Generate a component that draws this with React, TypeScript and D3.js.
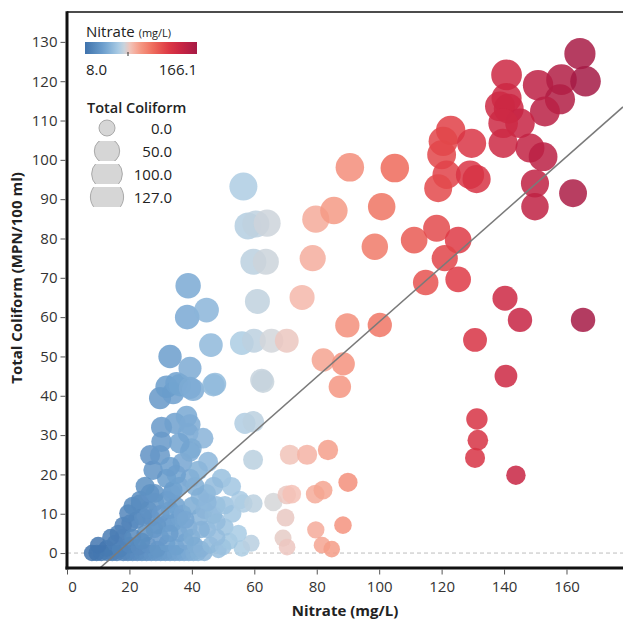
import React, { useEffect, useRef } from 'react';
import * as d3 from 'd3';

// nitrate (mg/L) and total coliform (MPN/100 ml), one entry per sample
const nitrate = [
  // low blue cluster, coliform ~0
  8.0, 9.5, 11, 13, 14.5, 16, 18, 19.5, 21, 22.5, 24, 25.5, 27, 28.5, 30, 31.5, 33, 34.5, 36, 37.5, 39, 40.5, 42, 44, 48.5, 56, 59,
  12.7, 15.4, 17, 20, 23, 26, 29, 32, 35, 38, 41, 43, 46, 50, 52,
  16.4, 20.2, 18, 22.3, 25, 28, 31.9, 34, 36, 39, 42.6, 45, 50.6, 54.9, 48, 30,
  10, 14, 18, 21, 24, 27, 29, 33, 36, 40, 43, 48, 53,
  19.6, 23.4, 24.3, 26, 28.2, 30, 33, 35, 37, 40, 42.6, 44, 46.9, 47.9, 50.6, 55.4, 56.5, 59.7, 38, 32, 45, 21,
  23.4, 26.6, 28.2, 33.5, 34, 36, 39.4, 44.7, 49.5, 52.7, 31.9, 27.6, 41, 47, 25, 35, 37, 42,
  26.6, 29.8, 30.3, 30.3, 34.6, 38.8, 38.3, 39.4, 43.6, 39.9, 39.4, 45.2, 57, 59.7, 59.6, 36, 33,
  29.8, 34, 31.9, 35.1, 36.2, 39.4, 40.4, 46.9, 47.4, 39.4, 33, 46.1, 62.8,
  38.5, 44.7, 38.8,
  // light blue / grey column
  56.5, 58, 60.5, 64.1, 59.7, 63.7, 61, 56, 59.9, 65.5, 70.4, 62.3, 66.1, 70.4,
  // pink, low coliform
  71.4, 76.9, 83.6, 72, 79.5, 82, 90, 70, 79.7, 88.4, 69.2, 70.5, 81.7, 84.8,
  // salmon
  75.3, 78.7, 79.7, 85.5, 90.6, 89.8, 100.2, 82.1, 88.5, 87.4,
  // red
  105, 100.8, 98.6, 111.2, 118.4, 125.3, 121, 114.9, 125.3, 122.9, 120.5, 129.6, 120, 121.6, 118.9, 129.1, 131.2,
  130.7, 131.3, 131.6, 130.7, 140.6, 143.8, 140.3, 145.1, 165.3,
  // dark red, top
  140.8, 164.3, 150.9, 158.4, 166.1, 140.8, 138.7, 141.5, 157.9, 153.1, 145.1, 139.7, 139.7, 148.3, 152.5, 149.9, 149.9, 162.1,
];

const coliform = [
  0, 0, 0, 0, 0, 0, 0, 0, 0, 0, 0, 0, 0, 0, 0, 0, 0, 0, 0, 0, 0, 0, 0, 0, 0.8, 1.2, 2.5,
  1.2, 2.5, 1, 2, 1.5, 2, 1, 2.5, 1.5, 3, 2, 1, 2, 1.5, 3,
  5, 7.6, 4, 8.4, 5, 6, 7.6, 7.6, 5, 6.5, 9.2, 6, 6.6, 5, 4, 4,
  2, 4, 7, 4, 3, 9, 7, 5, 9, 4, 6, 8, 10,
  10.1, 12.6, 9.2, 11, 13, 10, 11, 12, 10, 12, 14.3, 11, 9.7, 12.2, 12.2, 13.5, 12.6, 12.6, 8.5, 13.5, 13, 12,
  13.5, 15.2, 15.2, 15.2, 16, 17, 19, 15.2, 19, 16.9, 19, 21.1, 17, 17, 17, 20, 23, 21,
  24.9, 24.9, 28.3, 32, 33, 30.5, 34.7, 32.6, 29.2, 26.6, 25.8, 23.2, 33, 33.4, 23.7, 28, 22,
  39.4, 40.7, 42.3, 43.2, 42.7, 42, 41.5, 42.7, 43, 47, 50, 52.9, 43.6,
  60, 61.8, 68,
  93.2, 83.2, 83.7, 83.9, 74.1, 74.1, 64, 53.4, 54, 54, 54, 44, 13, 14.8,
  25, 25, 26.2, 15, 15, 16, 18, 9, 5.9, 7.1, 3.8, 1.5, 2, 1,
  65, 75, 84.9, 87.1, 98.1, 57.9, 58, 49.1, 48.1, 42.3,
  97.9, 88.1, 77.9, 79.6, 82.6, 79.6, 75, 68.8, 69.6, 107.5, 104.7, 104.2, 101.3, 96.2, 92.8, 96.2, 95.1,
  54.2, 34.1, 28.7, 24.2, 45, 19.8, 64.8, 59.3, 59.3,
  121.6, 127, 119, 120.4, 120, 115.7, 113.6, 113, 115.4, 112.3, 109.3, 109.3, 104.2, 103, 100.8, 94, 88.1, 91.5,
];

const xTicks = [0, 20, 40, 60, 80, 100, 120, 140, 160];
const yTicks = [0, 10, 20, 30, 40, 50, 60, 70, 80, 90, 100, 110, 120, 130];
const sizeLegendValues = [0, 50, 100, 127];

// color ramp stops (nitrate value -> colour)
const colorStops = [8, 35, 55, 66, 72, 85, 105, 125, 145, 166.1];
const colorRange = ['#3f72ac', '#6fa1cf', '#a8cbe4', '#d4d6d9', '#f4c1b6', '#f59b86', '#ee6a5a', '#de3a45', '#c72343', '#a51a45'];

// linear trend line
const trendSlope = 0.70;
const trendIntercept = -11.2;

const W = 623;
const H = 628;
const FONT = '"Open Sans", "Noto Sans", sans-serif';

const App = () => {
  const svgRef = useRef(null);

  useEffect(() => {
    const svg = d3.select(svgRef.current);
    svg.selectAll('*').remove();

    const left = 67, right = 623, top = 12, bottom = 568;

    const x = d3.scaleLinear().domain([0, 178.1]).range([left, right]);
    const y = d3.scaleLinear().domain([-3.8, 137.6]).range([bottom, top]);
    const color = d3.scaleLinear().domain(colorStops).range(colorRange).interpolate(d3.interpolateRgb);
    const area = d3.scaleLinear().domain([0, 127]).range([8.2 * 8.2, 15.6 * 15.6]);
    const r = v => Math.sqrt(area(v));

    const defs = svg.append('defs');
    defs.append('clipPath').attr('id', 'plotClip')
      .append('rect').attr('x', left).attr('y', top).attr('width', right - left).attr('height', bottom - top);

    // zero reference line
    svg.append('line')
      .attr('x1', left).attr('x2', right)
      .attr('y1', y(0)).attr('y2', y(0))
      .attr('stroke', '#bdbdbd').attr('stroke-width', 1).attr('stroke-dasharray', '4,3');

    const data = nitrate.map((n, i) => ({ n, c: coliform[i] }));

    svg.append('g').attr('clip-path', 'url(#plotClip)')
      .selectAll('circle')
      .data(data)
      .join('circle')
      .attr('cx', d => x(d.n))
      .attr('cy', d => y(d.c))
      .attr('r', d => r(d.c))
      .attr('fill', d => color(d.n))
      .attr('fill-opacity', 0.85);

    // trend line
    const x0 = 0, x1 = 178.1;
    svg.append('line')
      .attr('clip-path', 'url(#plotClip)')
      .attr('x1', x(x0)).attr('y1', y(trendSlope * x0 + trendIntercept))
      .attr('x2', x(x1)).attr('y2', y(trendSlope * x1 + trendIntercept))
      .attr('stroke', '#7a7a7a').attr('stroke-width', 1.5);

    // frame
    svg.append('line').attr('x1', left).attr('x2', right).attr('y1', top).attr('y2', top)
      .attr('stroke', '#111').attr('stroke-width', 1.6);
    svg.append('line').attr('x1', left).attr('x2', left).attr('y1', top - 0.8).attr('y2', bottom + 1.5)
      .attr('stroke', '#111').attr('stroke-width', 3);
    svg.append('line').attr('x1', left - 1.5).attr('x2', right).attr('y1', bottom).attr('y2', bottom)
      .attr('stroke', '#111').attr('stroke-width', 3);

    // axes
    const xAxis = svg.append('g').attr('transform', `translate(0,${bottom + 1.5})`)
      .call(d3.axisBottom(x).tickValues(xTicks).tickSize(5).tickSizeOuter(0).tickPadding(7));
    const yAxis = svg.append('g').attr('transform', `translate(${left - 1.5},0)`)
      .call(d3.axisLeft(y).tickValues(yTicks).tickSize(5).tickSizeOuter(0).tickPadding(3));
    [xAxis, yAxis].forEach(a => {
      a.select('.domain').remove();
      a.selectAll('line').attr('stroke', '#555');
      a.selectAll('text').attr('font-family', FONT).attr('font-size', 15).attr('fill', '#333');
    });
    // edge label nudged inside like the original
    xAxis.selectAll('.tick text').filter(d => d === 0).attr('dx', 5);

    svg.append('text')
      .attr('x', (left + right) / 2).attr('y', 616)
      .attr('text-anchor', 'middle')
      .attr('font-family', FONT).attr('font-size', 15).attr('font-weight', 'bold').attr('fill', '#222')
      .text('Nitrate (mg/L)');
    svg.append('text')
      .attr('transform', `translate(22,${(top + bottom) / 2 - 12}) rotate(-90)`)
      .attr('text-anchor', 'middle')
      .attr('font-family', FONT).attr('font-size', 15).attr('font-weight', 'bold').attr('fill', '#222')
      .text('Total Coliform (MPN/100 ml)');

    // colour legend
    const barX = 85, barW = 112, barY = 42, barH = 12;
    const grad = defs.append('linearGradient').attr('id', 'nitrateGrad');
    d3.range(0, 1.0001, 0.05).forEach(t => {
      grad.append('stop').attr('offset', t).attr('stop-color', color(8 + t * (166.1 - 8)));
    });
    const lg = svg.append('g');
    lg.append('text').attr('x', 86).attr('y', 37)
      .attr('font-family', FONT).attr('font-size', 15).attr('fill', '#222')
      .text('Nitrate')
      .append('tspan').attr('dx', 4).attr('font-size', 11).text('(mg/L)');
    lg.append('rect').attr('x', barX).attr('y', barY).attr('width', barW).attr('height', barH)
      .attr('fill', 'url(#nitrateGrad)');
    const barScale = d3.scaleLinear().domain([8, 166.1]).range([barX, barX + barW]);
    lg.append('line').attr('x1', barScale(68.7)).attr('x2', barScale(68.7))
      .attr('y1', barY + barH - 2).attr('y2', barY + barH + 2).attr('stroke', '#333');
    lg.append('text').attr('x', 86).attr('y', 75)
      .attr('font-family', FONT).attr('font-size', 15).attr('fill', '#222').text('8.0');
    lg.append('text').attr('x', barX + barW).attr('y', 75).attr('text-anchor', 'end')
      .attr('font-family', FONT).attr('font-size', 15).attr('fill', '#222').text('166.1');

    // size legend
    lg.append('text').attr('x', 87).attr('y', 113)
      .attr('font-family', FONT).attr('font-size', 14.5).attr('font-weight', 600).attr('fill', '#222')
      .text('Total Coliform');
    const rowY = d3.scalePoint().domain(sizeLegendValues).range([128, 197]);
    sizeLegendValues.forEach((v, i) => {
      const cy = rowY(v);
      defs.append('clipPath').attr('id', `sizeClip${i}`)
        .append('rect').attr('x', 80).attr('y', cy - 10).attr('width', 60).attr('height', 20);
      lg.append('circle').attr('cx', 107).attr('cy', cy).attr('r', v === 0 ? 8 : r(v) + 1)
        .attr('clip-path', `url(#sizeClip${i})`)
        .attr('fill', '#d6d6d6').attr('stroke', '#a9a9a9').attr('stroke-width', 1);
      lg.append('text').attr('x', 172).attr('y', cy + 5.5).attr('text-anchor', 'end')
        .attr('font-family', FONT).attr('font-size', 15).attr('fill', '#222')
        .text(d3.format('.1f')(v));
    });
  }, []);

  return (
    <svg
      ref={svgRef}
      width={W}
      height={H}
      style={{ position: 'absolute', left: 0, top: 0, background: '#fff' }}
    />
  );
};

export default App;
